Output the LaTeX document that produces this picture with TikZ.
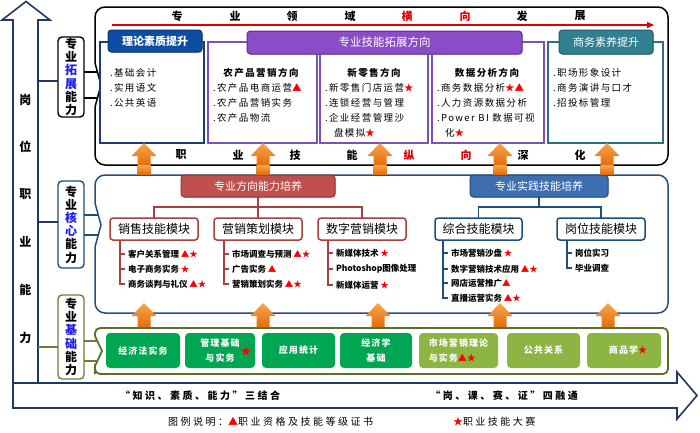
\documentclass[tikz,border=0pt]{standalone}
\usepackage{fontspec}
\setmainfont{Noto Sans CJK SC}
\newfontfamily\fntA[LetterSpace=15]{Noto Sans CJK SC}
\newfontfamily\fntB[LetterSpace=25]{Noto Sans CJK SC}
\newfontfamily\fntC[LetterSpace=12]{Noto Sans CJK SC}
\usetikzlibrary{shadows,arrows.meta}
\definecolor{navy}{HTML}{1F3864}
\definecolor{hblue}{HTML}{0E4DA4}
\definecolor{hbluedk}{HTML}{0A3570}
\definecolor{lbblue}{HTML}{1F3B77}
\definecolor{hpurp}{HTML}{8B4CC7}
\definecolor{hpurpdk}{HTML}{5C2D91}
\definecolor{bpurp}{HTML}{7B52B9}
\definecolor{hteal}{HTML}{31808F}
\definecolor{htealdk}{HTML}{1F5C69}
\definecolor{bteal}{HTML}{2F6F82}
\definecolor{hred}{HTML}{C0504D}
\definecolor{hreddk}{HTML}{943634}
\definecolor{mred}{HTML}{A5423F}
\definecolor{hblu2}{HTML}{3D6FB0}
\definecolor{hblu2dk}{HTML}{1F4E79}
\definecolor{mblue}{HTML}{1F4E79}
\definecolor{midb}{HTML}{2A4D7F}
\definecolor{olive}{HTML}{5E6E2C}
\definecolor{olivel}{HTML}{6C7D3A}
\definecolor{tgreen}{HTML}{00A651}
\definecolor{tlgreen}{HTML}{8DB543}
\definecolor{orA}{HTML}{F8A54C}
\definecolor{orB}{HTML}{E46C0A}
\definecolor{kblue}{HTML}{1C1CF0}
\definecolor{tred}{HTML}{E00000}
\newcommand{\rtr}{\textcolor{red}{▲}}
\newcommand{\rst}{\textcolor{red}{★}}
\newcommand{\oarr}[3]{\path[oarrow] (#1-12.5,#2+13) -- (#1,#2) -- (#1+12.5,#2+13) -- (#1+6.5,#2+13) -- (#1+6.5,#3) -- (#1-6.5,#3) -- (#1-6.5,#2+13) -- cycle;}
\begin{document}
\begin{tikzpicture}[x=1pt,y=-1pt,
  every node/.style={inner sep=0pt, outer sep=0pt},
  bigarrow/.style={draw=navy, line width=1.6pt, fill=white, line join=miter},
  vtxt/.style={font=\fontsize{12}{14}\selectfont\bfseries},
  labbox/.style={draw, rounded corners=4pt, line width=1.4pt, fill=white, minimum width=26pt, align=center, font=\fontsize{12}{13.2}\selectfont\bfseries},
  topttl/.style={font=\fontsize{11}{13}\selectfont\bfseries},
  cbox/.style={draw, line width=1.3pt, fill=white},
  hdr/.style={draw, line width=1pt, rounded corners=3.5pt, text=white, font=\fontsize{11}{13}\selectfont, drop shadow={shadow xshift=1pt, shadow yshift=-1.2pt, opacity=0.35}},
  titem/.style={anchor=west, font=\fntA\fontsize{9.5}{11}\selectfont},
  tsub/.style={font=\fntA\fontsize{9.5}{11}\selectfont\bfseries},
  modbox/.style={draw, line width=1.5pt, rounded corners=3pt, fill=white, minimum width=88pt, minimum height=22pt, font=\fontsize{12}{14}\selectfont},
  mitem/.style={anchor=west, inner xsep=3pt, font=\fontsize{8.5}{10}\selectfont\bfseries},
  tile/.style={rounded corners=4pt, minimum height=35pt, text=white, align=center, font=\fntC\fontsize{9}{15}\selectfont\bfseries},
  oarrow/.style={top color=orA, bottom color=orB, draw=none},
  band/.style={font=\fntB\fontsize{10}{12}\selectfont\bfseries},
  redln/.style={draw=mred, line width=1.3pt},
  bluln/.style={draw=mblue, line width=1.3pt},
]
\useasboundingbox (0,0) rectangle (700,432);
% ---- big L arrows
\draw[bigarrow] (13,383) -- (13,20) -- (2,20) -- (26,1.5) -- (50,20) -- (38,20) -- (38,383) -- cycle;
\draw[bigarrow] (13,383) -- (677,383) -- (677,372) -- (697,395.5) -- (677,419) -- (677,408) -- (13,408) -- cycle;
\foreach \c/\yy [count=\i] in {岗/100,位/147,职/194,业/242,能/290,力/338}
  \node[vtxt] (v\i) at (25.5,\yy) {\c};
% ---- label boxes
\node[labbox, draw=black, minimum height=80pt] (L1) at (71,77) {专\\业\\\textcolor{kblue}{拓}\\\textcolor{kblue}{展}\\能\\力};
\node[labbox, draw=mblue, minimum height=87pt] (L2) at (71,224.5) {专\\业\\\textcolor{kblue}{核}\\\textcolor{kblue}{心}\\能\\力};
\node[labbox, draw=olivel, minimum height=84pt] (L3) at (71,337) {专\\业\\\textcolor{kblue}{基}\\\textcolor{kblue}{础}\\能\\力};
\coordinate (a1) at (38,81); \coordinate (a2) at (38,222); \coordinate (a3) at (38,347);
\draw[navy, line width=1.6pt] (a1) -- (a1 -| L1.west);
\draw[navy, line width=1.6pt] (a2) -- (a2 -| L2.west);
\draw[olivel, line width=1.6pt] (a3) -- (a3 -| L3.west);
% ---- container boxes
\draw[line width=1.5pt, fill=white] (101,85) -- (95,63) -- (95,50) [rounded corners=10pt] -- (95,7) -- (668,7) -- (668,165) -- (95,165) -- (95,130) [sharp corners] -- (95,107) -- cycle;
\draw[draw=midb, line width=1.5pt, fill=white] (101,225) -- (95,203) -- (95,192) [rounded corners=10pt] -- (95,175) -- (668,175) -- (668,313) -- (95,313) -- (95,280) [sharp corners] -- (95,247) -- cycle;
\draw[draw=olive, line width=1.8pt, fill=white] (102,351) -- (95,336) -- (95,334) [rounded corners=5pt] -- (95,328) -- (668,328) -- (668,374) -- (95,374) -- (95,369) [sharp corners] -- (95,366) -- cycle;
% chevron connectors
\coordinate (k1a) at (97.5,72); \coordinate (k1b) at (97.5,98);
\coordinate (k2a) at (98.3,215); \coordinate (k2b) at (98.3,235);
\coordinate (k3a) at (97.3,341); \coordinate (k3b) at (97.3,361);
\draw[line width=1.4pt] (k1a -| L1.east) -- (k1a);
\draw[line width=1.4pt] (k1b -| L1.east) -- (k1b);
\draw[mblue, line width=1.4pt] (k2a -| L2.east) -- (k2a);
\draw[mblue, line width=1.4pt] (k2b -| L2.east) -- (k2b);
\draw[olivel, line width=1.4pt] (k3a -| L3.east) -- (k3a);
\draw[olivel, line width=1.4pt] (k3b -| L3.east) -- (k3b);
% ---- top section
\foreach \c/\xx/\cl [count=\i] in {专/177/black,业/235/black,领/292/black,域/350/black,横/407/tred,向/465/tred,发/522/black,展/580/black}
  \node[topttl, text=\cl] (tt\i) at (\xx,16) {\c};
\coordinate (rs) at (112,25); \coordinate (re) at (654,25);
\draw[draw=tred, line width=1.4pt, -{Triangle[length=7pt,width=6pt]}] (rs) -- (re);
\node[cbox, draw=lbblue, minimum width=104pt, minimum height=101pt] (C1) at (152,92.5) {};
\node[cbox, draw=bpurp, minimum width=109pt, minimum height=101pt] (C2) at (262.5,92.5) {};
\node[cbox, draw=bpurp, minimum width=108pt, minimum height=101pt] (C3) at (374,92.5) {};
\node[cbox, draw=bpurp, minimum width=112pt, minimum height=101pt] (C4) at (488,92.5) {};
\node[cbox, draw=bteal, minimum width=115pt, minimum height=101pt] (C5) at (605.5,92.5) {};
\node[hdr, fill=hblue, draw=hbluedk, minimum width=94pt, minimum height=22pt, font=\fontsize{11}{13}\selectfont\bfseries] (H1) at (155,41) {理论素质提升};
\node[hdr, fill=hpurp, draw=hpurpdk, minimum width=275pt, minimum height=23pt, font=\fontsize{11.5}{13}\selectfont] (H2) at (384.5,42.5) {专业技能拓展方向};
\node[hdr, fill=hteal, draw=htealdk, minimum width=94pt, minimum height=24pt] (H3) at (606,42) {商务素养提升};
% items box 1
\node[titem] (i11) at (110,73) {.基础会计};
\node[titem] (i12) at (110,88) {.实用语文};
\node[titem] (i13) at (110,103) {.公共英语};
% box 2
\node[tsub] (s2) at (261,73) {农产品营销方向};
\node[titem] (i21) at (213,88) {.农产品电商运营\rtr};
\node[titem] (i22) at (213,103) {.农产品营销实务};
\node[titem] (i23) at (213,118) {.农产品物流};
% box 3
\node[tsub] (s3) at (374,73) {新零售方向};
\node[titem] (i31) at (325,88) {.新零售门店运营\rst};
\node[titem] (i32) at (325,103) {.连锁经营与管理};
\node[titem] (i33) at (325,118) {.企业经营管理沙};
\node[titem] (i34) at (334,133) {盘模拟\rst};
% box 4
\node[tsub] (s4) at (487,73) {数据分析方向};
\node[titem] (i41) at (437,88) {.商务数据分析\rst\rtr};
\node[titem] (i42) at (437,103) {.人力资源数据分析};
\node[titem] (i43) at (437,118) {.Power BI 数据可视};
\node[titem] (i44) at (445,133) {化\rst};
% box 5
\node[titem] (i51) at (553,73) {.职场形象设计};
\node[titem] (i52) at (553,88) {.商务演讲与口才};
\node[titem] (i53) at (553,103) {.招投标管理};
\foreach \c/\xx/\cl [count=\i] in {职/181/black,业/238/black,技/295/black,能/352/black,纵/409/tred,向/466/tred,深/523/black,化/580/black}
  \node[topttl, text=\cl] (bt\i) at (\xx,155) {\c};
% ---- middle section
\node[hdr, fill=hred, draw=hreddk, minimum width=154pt, minimum height=22pt] (HR) at (258,186) {专业方向能力培养};
\node[hdr, fill=hblu2, draw=hblu2dk, minimum width=138pt, minimum height=22pt] (HB) at (539,186) {专业实践技能培养};
\node[modbox, draw=mred] (mA) at (154,229) {销售技能模块};
\node[modbox, draw=mred] (mB) at (258,229) {营销策划模块};
\node[modbox, draw=mred] (mC) at (362,229) {数字营销模块};
\node[modbox, draw=mblue, minimum width=87pt] (mD) at (478.5,229) {综合技能模块};
\node[modbox, draw=mblue] (mE) at (601,229) {岗位技能模块};
\draw[redln] (HR.south) -- ++(0,10) coordinate (j1);
\draw[redln] (mA.north) |- (j1) -| (mC.north);
\draw[redln] (j1) -- (mB.north);
\draw[bluln] (HB.south) -- ++(0,10) coordinate (j2);
\draw[bluln] (mD.north) |- (j2) -| (mE.north);
% items A
\node[mitem] (A1) at (125,254) {客户关系管理 \rtr\rst};
\node[mitem] (A2) at (125,269) {电子商务实务 \rst};
\node[mitem] (A3) at (125,284) {商务谈判与礼仪 \rtr\rst};
\coordinate (vA) at (120,240);
\draw[redln] (vA) |- (A3.west);
\draw[redln] (vA |- A1.west) -- (A1.west);
\draw[redln] (vA |- A2.west) -- (A2.west);
% items B
\node[mitem] (B1) at (229,254) {市场调查与预测 \rtr\rst};
\node[mitem] (B2) at (229,269) {广告实务 \rtr};
\node[mitem] (B3) at (229,284) {营销策划实务 \rtr\rst};
\coordinate (vB) at (224,240);
\draw[redln] (vB) |- (B3.west);
\draw[redln] (vB |- B1.west) -- (B1.west);
\draw[redln] (vB |- B2.west) -- (B2.west);
% items C
\node[mitem] (C1i) at (333,253) {新媒体技术 \rst};
\node[mitem] (C2i) at (333,269) {Photoshop图像处理};
\node[mitem] (C3i) at (333,285) {新媒体运营 \rst};
\coordinate (vC) at (328,240);
\draw[redln] (vC) |- (C3i.west);
\draw[redln] (vC |- C1i.west) -- (C1i.west);
\draw[redln] (vC |- C2i.west) -- (C2i.west);
% items D
\node[mitem] (D1) at (448,253) {市场营销沙盘 \rst};
\node[mitem] (D2) at (448,269) {数字营销技术应用 \rtr\rst};
\node[mitem] (D3) at (448,283) {网店运营推广\rtr};
\node[mitem] (D4) at (448,298) {直播运营实务 \rtr\rst};
\coordinate (vD) at (443,240);
\draw[bluln] (vD) |- (D4.west);
\draw[bluln] (vD |- D1.west) -- (D1.west);
\draw[bluln] (vD |- D2.west) -- (D2.west);
\draw[bluln] (vD |- D3.west) -- (D3.west);
% items E
\node[mitem] (E1) at (572,253) {岗位实习};
\node[mitem] (E2) at (572,268) {毕业调查};
\coordinate (vE) at (567,240);
\draw[bluln] (vE) |- (E2.west);
\draw[bluln] (vE |- E1.west) -- (E1.west);
% ---- bottom tiles
\node[tile, fill=tgreen, minimum width=74pt] (T1) at (143,350.5) {经济法实务};
\node[tile, fill=tgreen, minimum width=70pt] (T2) at (220,350.5) {管理基础\\与实务};
\node[font=\fontsize{11}{12}\selectfont, text=red] (T2s) at (246,351) {★};
\node[tile, fill=tgreen, minimum width=73pt] (T3) at (298.5,350.5) {应用统计};
\node[tile, fill=tgreen, minimum width=72pt] (T4) at (376,350.5) {经济学\\基础};
\node[tile, fill=tlgreen, minimum width=79pt, align=left] (T5) at (458.5,350.5) {市场营销理论\\与实务\rtr\rst};
\node[tile, fill=tlgreen, minimum width=73pt] (T6) at (543.5,350.5) {公共关系};
\node[tile, fill=tlgreen, minimum width=74pt] (T7) at (624,350.5) {\hspace*{8pt}商品学\rst};
% ---- orange arrows
\oarr{144}{143}{165.5}
\oarr{263}{143}{165.5}
\oarr{380}{143}{165.5}
\oarr{500}{143}{165.5}
\oarr{607}{143}{165.5}
\path[oarrow] (137.5,165) rectangle (150.5,174.3);
\path[oarrow] (256.5,165) rectangle (269.5,174.3);
\path[oarrow] (373.5,165) rectangle (386.5,174.3);
\path[oarrow] (493.5,165) rectangle (506.5,174.3);
\path[oarrow] (600.5,165) rectangle (613.5,174.3);
\oarr{144}{303}{327.2}
\oarr{263}{303}{327.2}
\oarr{378}{303}{327.2}
\oarr{500}{303}{327.2}
\oarr{608}{303}{327.2}
% ---- band texts and legend
\node[band] (bt) at (200,396) {“知识、素质、能力”三结合};
\node[band] (bc) at (504,396) {“岗、课、赛、证”四融通};
\node[band, anchor=west, font=\fntB\fontsize{10}{12}\selectfont] (lg1) at (168,422) {图例说明：\rtr 职业资格及技能等级证书};
\node[band, anchor=west, font=\fntB\fontsize{10}{12}\selectfont] (lg2) at (453,422) {\rst 职业技能大赛};
\end{tikzpicture}
\end{document}
